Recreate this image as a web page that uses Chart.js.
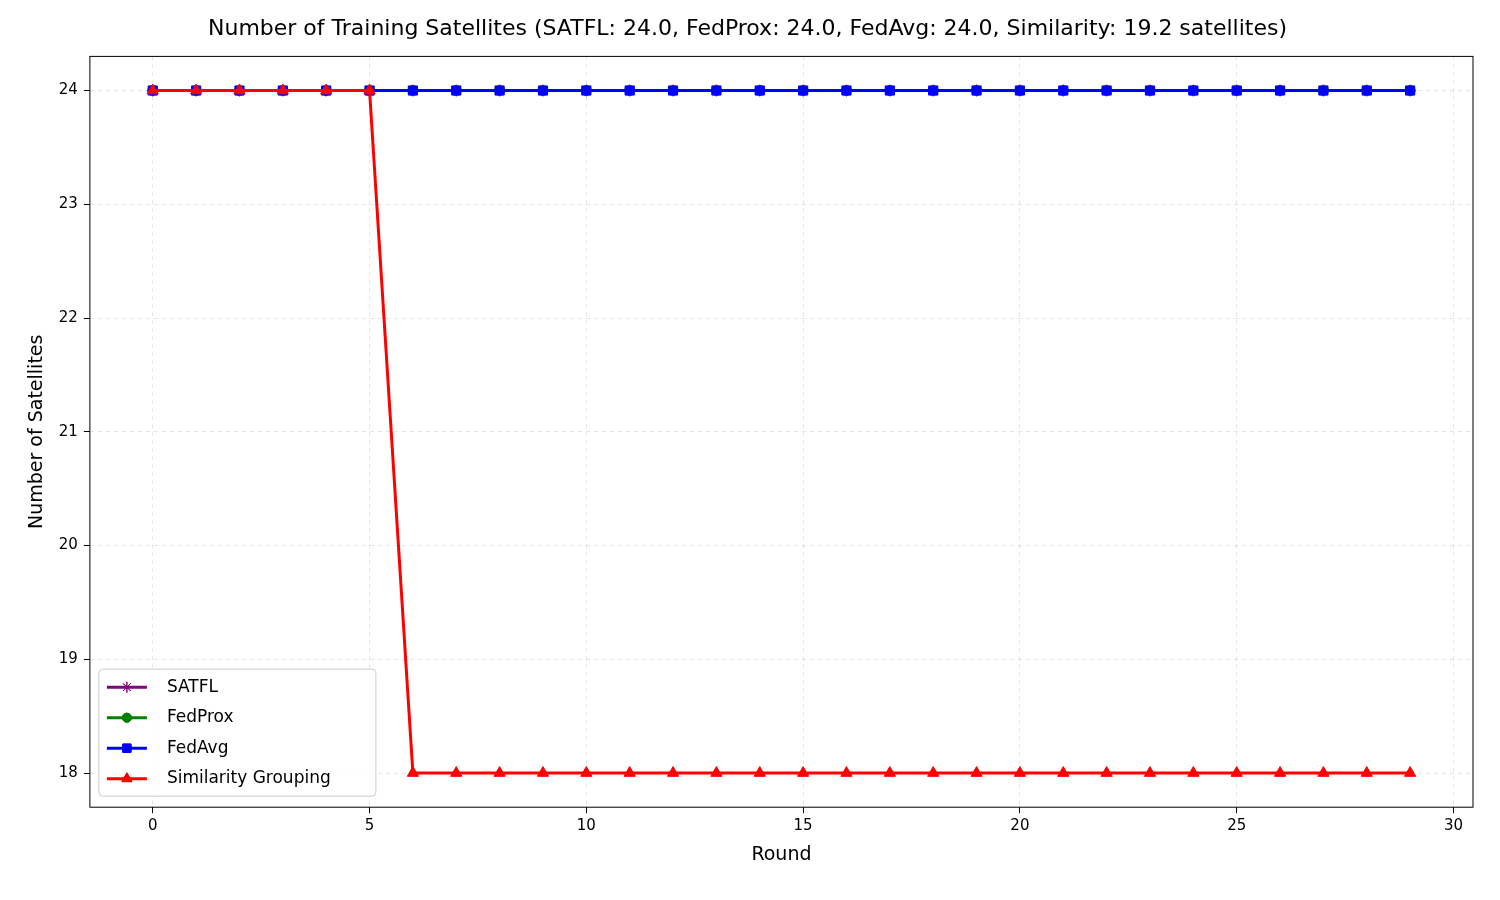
<!DOCTYPE html>
<html><head><meta charset="utf-8">
<script src="https://cdn.jsdelivr.net/npm/chart.js@4/dist/chart.umd.min.js"></script>
<style>html,body{margin:0;padding:0;background:#fff}#wrap{width:1500px;height:900px}</style>
</head><body><div id="wrap"><canvas id="c" width="1500" height="900"></canvas></div>
<script>
const rounds = Array.from({length:30},(_,i)=>i);
const satfl = [24,24,24,24,24,24,24,24,24,24,24,24,24,24,24,24,24,24,24,24,24,24,24,24,24,24,24,24,24,24];
const fedprox = [24,24,24,24,24,24,24,24,24,24,24,24,24,24,24,24,24,24,24,24,24,24,24,24,24,24,24,24,24,24];
const fedavg = [24,24,24,24,24,24,24,24,24,24,24,24,24,24,24,24,24,24,24,24,24,24,24,24,24,24,24,24,24,24];
const similarity = [24,24,24,24,24,24,18,18,18,18,18,18,18,18,18,18,18,18,18,18,18,18,18,18,18,18,18,18,18,18];
const xTicks = [0,5,10,15,20,25,30];
const yTicks = [18,19,20,21,22,23,24];
const F = "'DejaVu Sans', sans-serif";
const pts = a => a.map((v,i)=>({x:rounds[i],y:v}));
const ds = (label,data,color,style,order,r)=>({label,data:pts(data),borderColor:color,backgroundColor:color,
  pointStyle:style,pointRadius:r,pointHoverRadius:r,pointBorderWidth:1,borderWidth:3,order,tension:0});
const datasets=[ds('SATFL',satfl,'purple','star',4,6),ds('FedProx',fedprox,'green','circle',3,5),
  ds('FedAvg',fedavg,'blue','rect',2,6.5),ds('Similarity Grouping',similarity,'red','triangle',1,6.5)];
const frame={id:'frame',afterDraw(c){const {ctx,chartArea:a}=c;ctx.save();ctx.strokeStyle='#000';ctx.lineWidth=1;
  ctx.strokeRect(a.left,a.top,a.right-a.left,a.bottom-a.top);
  const x0=a.left+9,y0=a.bottom-138,w=277,h=127;
  ctx.fillStyle='rgba(255,255,255,0.85)';ctx.strokeStyle='#ccc';ctx.beginPath();
  ctx.roundRect(x0,y0,w,h,4);ctx.fill();ctx.stroke();
  ctx.font="17px "+F;ctx.textBaseline='middle';
  datasets.forEach((d,i)=>{const y=y0+18+i*30.5;ctx.strokeStyle=d.borderColor;ctx.lineWidth=3;
    ctx.beginPath();ctx.moveTo(x0+8,y);ctx.lineTo(x0+48,y);ctx.stroke();
    ctx.fillStyle=d.borderColor;ctx.lineWidth=1;
    Chart.helpers.drawPoint(ctx,{pointStyle:d.pointStyle,radius:d.pointRadius*0.9,rotation:0,borderWidth:1},x0+28,y);
    ctx.fill();ctx.stroke();
    ctx.fillStyle='#000';ctx.fillText(d.label,x0+68,y);});
  ctx.restore();}};
Chart.defaults.font.family=F;
new Chart(document.getElementById('c'),{type:'line',data:{datasets},plugins:[frame],
options:{responsive:false,animation:false,
 layout:{padding:{left:22,right:27,top:8,bottom:30}},
 plugins:{legend:{display:false},tooltip:{enabled:false},
  title:{display:true,text:'Number of Training Satellites (SATFL: 24.0, FedProx: 24.0, FedAvg: 24.0, Similarity: 19.2 satellites)',
   color:'#000',font:{size:22,weight:'normal'},padding:{top:8,bottom:14}}},
 scales:{
  x:{type:'linear',min:-1.45,max:30.45,afterBuildTicks:s=>{s.ticks=xTicks.map(v=>({value:v}))},
   grid:{color:'rgba(0,0,0,0.1)',tickColor:'#000',tickLength:6,tickBorderDash:[],tickWidth:1},
   border:{display:false,dash:[4,4]},ticks:{color:'#000',font:{size:15},padding:4},
   title:{display:true,text:'Round',color:'#000',font:{size:19}}},
  y:{min:17.7,max:24.3,afterBuildTicks:s=>{s.ticks=yTicks.map(v=>({value:v}))},
   grid:{color:'rgba(0,0,0,0.1)',tickColor:'#000',tickLength:6,tickBorderDash:[],tickWidth:1},
   border:{display:false,dash:[4,4]},ticks:{color:'#000',font:{size:15},padding:6},
   title:{display:true,text:'Number of Satellites',color:'#000',font:{size:19}}}}}});
</script></body></html>
